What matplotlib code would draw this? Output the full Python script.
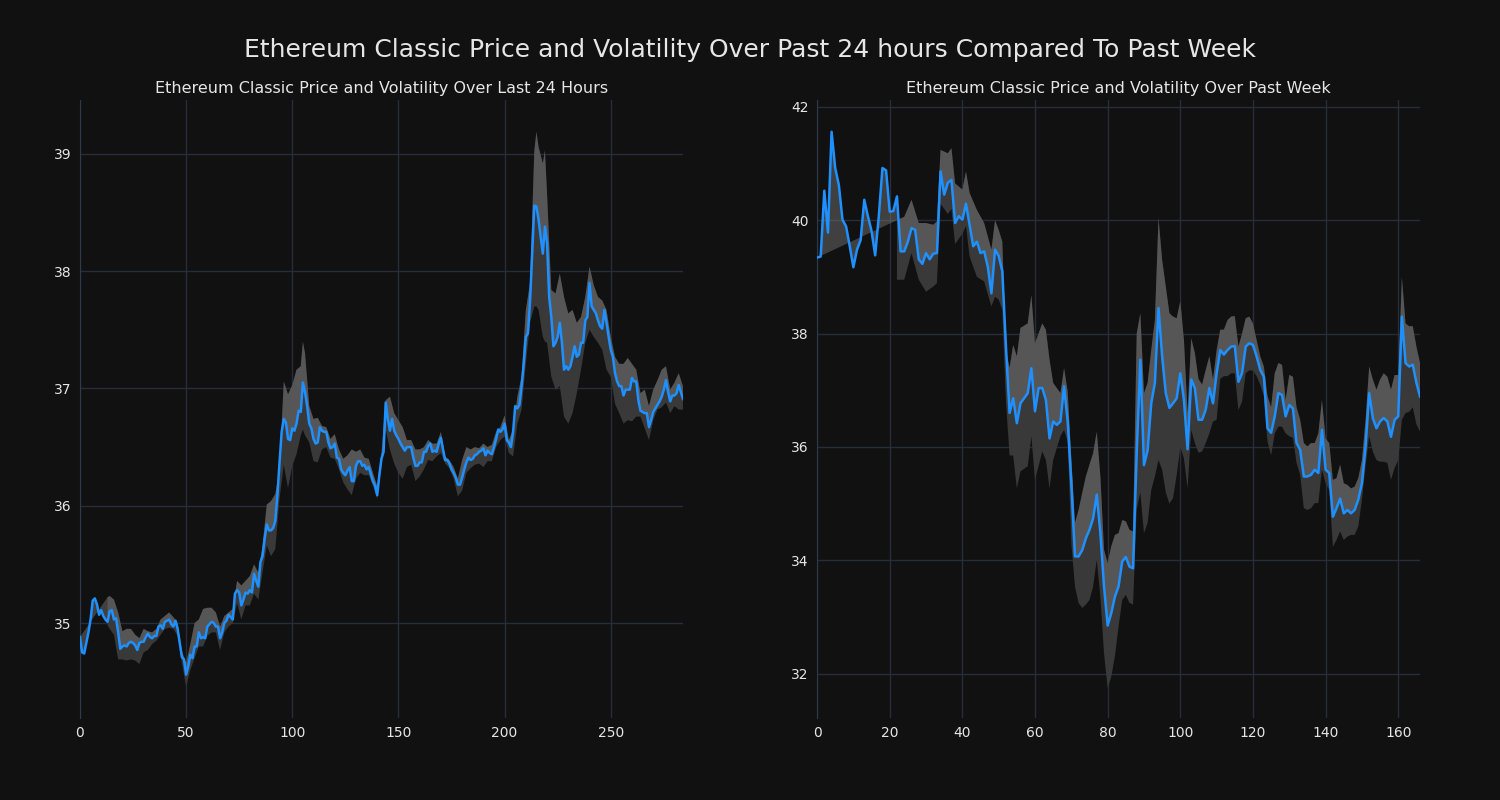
import numpy as np
import matplotlib
matplotlib.use("Agg")
import matplotlib.pyplot as plt

# last 24 hours, 5 minute steps
day_price = [
    34.88, 34.75, 34.74, 34.83, 34.92, 35.03, 35.19, 35.21, 35.16, 35.07,
    35.11, 35.06, 35.03, 35.01, 35.10, 35.11, 35.03, 35.04, 34.92, 34.78,
    34.80, 34.81, 34.80, 34.83, 34.84, 34.83, 34.81, 34.77, 34.83, 34.84,
    34.84, 34.88, 34.91, 34.88, 34.87, 34.89, 34.89, 34.97, 34.98, 34.95,
    35.01, 35.02, 35.03, 34.99, 34.97, 35.02, 34.95, 34.83, 34.71, 34.69,
    34.56, 34.63, 34.73, 34.70, 34.80, 34.80, 34.92, 34.87, 34.88, 34.87,
    34.97, 34.99, 35.01, 35.00, 34.97, 34.97, 34.87, 34.92, 35.00, 35.02,
    35.07, 35.05, 35.03, 35.25, 35.28, 35.26, 35.15, 35.20, 35.26, 35.25,
    35.28, 35.26, 35.42, 35.36, 35.31, 35.52, 35.57, 35.72, 35.84, 35.79,
    35.79, 35.81, 35.87, 36.09, 36.37, 36.63, 36.74, 36.71, 36.57, 36.56,
    36.66, 36.64, 36.70, 36.81, 36.80, 37.05, 36.97, 36.85, 36.70, 36.66,
    36.57, 36.53, 36.54, 36.67, 36.64, 36.63, 36.63, 36.54, 36.49, 36.50,
    36.53, 36.41, 36.40, 36.31, 36.28, 36.26, 36.30, 36.33, 36.21, 36.21,
    36.34, 36.38, 36.38, 36.34, 36.35, 36.31, 36.33, 36.27, 36.21, 36.17,
    36.09, 36.26, 36.40, 36.46, 36.88, 36.74, 36.64, 36.74, 36.64, 36.60,
    36.57, 36.53, 36.50, 36.47, 36.50, 36.50, 36.50, 36.41, 36.34, 36.34,
    36.37, 36.37, 36.46, 36.46, 36.51, 36.53, 36.46, 36.47, 36.46, 36.53,
    36.58, 36.48, 36.39, 36.39, 36.36, 36.31, 36.28, 36.24, 36.18, 36.18,
    36.24, 36.31, 36.37, 36.41, 36.39, 36.40, 36.43, 36.44, 36.46, 36.47,
    36.49, 36.43, 36.47, 36.45, 36.44, 36.50, 36.57, 36.65, 36.63, 36.65,
    36.70, 36.56, 36.54, 36.50, 36.63, 36.85, 36.83, 36.86, 37.02, 37.21,
    37.44, 37.47, 37.75, 38.15, 38.56, 38.55, 38.44, 38.29, 38.15, 38.38,
    38.24, 37.78, 37.61, 37.36, 37.39, 37.44, 37.56, 37.39, 37.16, 37.19,
    37.16, 37.19, 37.27, 37.36, 37.27, 37.29, 37.39, 37.39, 37.58, 37.61,
    37.90, 37.70, 37.67, 37.64, 37.58, 37.53, 37.51, 37.67, 37.56, 37.44,
    37.33, 37.27, 37.13, 37.06, 37.02, 37.02, 36.94, 36.99, 36.99, 36.99,
    37.09, 37.06, 37.06, 36.90, 36.81, 36.80, 36.79, 36.79, 36.67, 36.73,
    36.80, 36.83, 36.86, 36.89, 36.93, 36.99, 37.07, 36.97, 36.89, 36.94,
    36.94, 36.96, 37.03, 36.97, 36.91,
]

day_band_x = [
    13, 14, 16, 18, 20, 22, 24, 26, 28, 30, 32, 34, 36, 38, 40, 42, 44, 46, 48, 50,
    52, 54, 56, 58, 60, 62, 64, 66, 68, 70, 72, 74, 76, 78, 80, 82, 84, 86, 88, 90,
    92, 94, 96, 98, 100, 102, 104, 105, 106, 108, 110, 112, 114, 116, 118, 120, 122, 124, 126, 128,
    130, 132, 134, 136, 138, 140, 142, 144, 146, 148, 150, 152, 154, 156, 158, 160, 162, 164, 166, 168,
    170, 172, 174, 176, 178, 180, 182, 184, 186, 188, 190, 192, 194, 196, 198, 200, 202, 204, 206, 208,
    210, 212, 214, 215, 216, 218, 219, 220, 222, 224, 226, 228, 230, 232, 234, 236, 238, 240, 242, 244,
    246, 248, 250, 252, 254, 256, 258, 260, 262, 264, 266, 268, 270, 272, 274, 276, 278, 280, 282, 284,
]
day_upper = [
    35.22, 35.23, 35.20, 35.09, 34.93, 34.95, 34.95, 34.90, 34.87, 34.95, 34.93, 34.92, 34.95, 35.03, 35.06, 35.09, 35.05, 35.00, 34.76, 34.66,
    34.82, 35.00, 35.03, 35.12, 35.13, 35.13, 35.09, 34.97, 35.06, 35.09, 35.12, 35.36, 35.32, 35.36, 35.40, 35.50, 35.43, 35.66, 36.01, 36.04,
    36.10, 36.31, 37.06, 36.95, 37.03, 37.16, 37.19, 37.40, 37.30, 36.85, 36.74, 36.75, 36.68, 36.67, 36.57, 36.61, 36.48, 36.40, 36.43, 36.48,
    36.46, 36.48, 36.41, 36.40, 36.28, 36.17, 36.45, 36.90, 36.93, 36.79, 36.73, 36.67, 36.56, 36.56, 36.48, 36.48, 36.50, 36.56, 36.53, 36.53,
    36.63, 36.42, 36.39, 36.33, 36.23, 36.39, 36.50, 36.48, 36.50, 36.49, 36.53, 36.50, 36.52, 36.63, 36.67, 36.77, 36.56, 36.65, 36.93, 37.10,
    37.67, 37.90, 39.03, 39.19, 39.06, 38.92, 39.03, 38.66, 37.84, 37.81, 37.98, 37.78, 37.64, 37.67, 37.56, 37.61, 37.78, 38.04, 37.88, 37.78,
    37.75, 37.67, 37.44, 37.27, 37.21, 37.21, 37.26, 37.21, 37.16, 36.96, 36.99, 36.85, 36.99, 37.07, 37.16, 37.19, 36.99, 37.05, 37.13, 37.02,
]
day_lower = [
    34.98, 34.95, 34.90, 34.69, 34.69, 34.68, 34.69, 34.68, 34.65, 34.75, 34.77, 34.82, 34.85, 34.90, 34.95, 34.96, 34.95, 34.89, 34.66, 34.46,
    34.60, 34.70, 34.80, 34.80, 34.89, 34.92, 34.92, 34.77, 34.92, 34.97, 35.00, 35.17, 35.03, 35.15, 35.15, 35.25, 35.20, 35.43, 35.66, 35.57,
    35.63, 36.06, 36.35, 36.15, 36.34, 36.44, 36.60, 36.65, 36.60, 36.54, 36.38, 36.37, 36.48, 36.50, 36.41, 36.40, 36.31, 36.20, 36.14, 36.09,
    36.23, 36.28, 36.26, 36.26, 36.17, 36.06, 36.33, 36.65, 36.48, 36.36, 36.28, 36.23, 36.33, 36.35, 36.21, 36.25, 36.31, 36.39, 36.38, 36.42,
    36.45, 36.36, 36.32, 36.23, 36.08, 36.13, 36.28, 36.32, 36.35, 36.36, 36.33, 36.38, 36.38, 36.50, 36.56, 36.59, 36.45, 36.42, 36.70, 36.82,
    37.21, 37.56, 37.70, 37.70, 37.67, 37.44, 37.40, 37.39, 37.10, 36.99, 37.02, 36.76, 36.70, 36.79, 36.96, 37.16, 37.39, 37.50, 37.44, 37.39,
    37.33, 37.16, 37.10, 36.87, 36.79, 36.70, 36.73, 36.72, 36.76, 36.76, 36.66, 36.56, 36.73, 36.82, 36.84, 36.88, 36.79, 36.85, 36.82, 36.82,
]

# past week, hourly steps
week_price = [
    39.34, 39.36, 40.52, 39.78, 41.56, 40.92, 40.62, 40.01, 39.89, 39.54,
    39.17, 39.48, 39.65, 40.36, 40.07, 39.81, 39.38, 40.07, 40.92, 40.88,
    40.15, 40.16, 40.42, 39.45, 39.45, 39.62, 39.86, 39.83, 39.31, 39.23,
    39.42, 39.31, 39.41, 39.42, 40.86, 40.45, 40.66, 40.71, 39.95, 40.07,
    40.01, 40.29, 39.92, 39.54, 39.62, 39.42, 39.45, 39.18, 38.71, 39.48,
    39.37, 39.10, 37.77, 36.60, 36.86, 36.42, 36.77, 36.86, 36.95, 37.39,
    36.63, 37.04, 37.04, 36.83, 36.15, 36.45, 36.39, 36.45, 37.07, 36.45,
    35.36, 34.07, 34.07, 34.18, 34.39, 34.54, 34.74, 35.16, 34.48, 33.54,
    32.85, 33.07, 33.36, 33.54, 33.98, 34.06, 33.89, 33.86, 35.90, 37.54,
    35.68, 35.94, 36.77, 37.13, 38.45, 37.60, 36.95, 36.69, 36.77, 36.86,
    37.30, 36.83, 35.96, 37.19, 37.04, 36.48, 36.48, 36.66, 37.04, 36.77,
    37.30, 37.71, 37.63, 37.71, 37.77, 37.78, 37.15, 37.30, 37.77, 37.83,
    37.80, 37.60, 37.36, 37.24, 36.33, 36.25, 36.54, 36.95, 36.92, 36.54,
    36.74, 36.68, 36.07, 35.95, 35.48, 35.48, 35.51, 35.60, 35.54, 36.30,
    35.60, 35.54, 34.77, 34.92, 35.09, 34.83, 34.89, 34.83, 34.89, 35.07,
    35.36, 36.01, 36.95, 36.51, 36.33, 36.45, 36.51, 36.45, 36.18, 36.48,
    36.54, 38.30, 37.48, 37.42, 37.45, 37.13, 36.89,
]

week_band_x = [
    22, 24, 26, 28, 30, 32, 33, 34, 36, 37, 38, 40, 41, 42, 44, 46, 48, 49, 50, 51,
    52, 53, 54, 55, 56, 58, 59, 60, 62, 63, 64, 65, 67, 68, 69, 70, 71, 72, 73, 74,
    75, 76, 77, 78, 79, 80, 81, 82, 83, 84, 85, 86, 87, 88, 89, 90, 91, 92, 93, 94,
    95, 96, 97, 98, 99, 100, 101, 102, 103, 104, 105, 106, 107, 108, 109, 110, 111, 112, 113, 114,
    115, 116, 117, 118, 119, 120, 121, 122, 123, 124, 125, 126, 127, 128, 129, 130, 131, 132, 133, 134,
    135, 136, 137, 138, 139, 140, 141, 142, 143, 144, 145, 146, 147, 148, 149, 150, 151, 152, 153, 154,
    155, 156, 157, 158, 159, 160, 161, 162, 163, 164, 165, 166,
]
week_upper = [
    40.00, 40.06, 40.36, 39.95, 39.95, 39.92, 39.98, 41.24, 41.18, 41.27, 40.65, 40.54, 40.86, 40.48, 40.18, 39.95, 39.48, 40.00, 39.83, 39.62,
    37.70, 37.40, 37.80, 37.60, 38.10, 38.18, 38.68, 37.83, 38.18, 38.07, 37.54, 37.13, 36.95, 37.39, 36.98, 35.80, 34.66, 34.89, 35.19, 35.48,
    35.69, 35.89, 36.27, 35.48, 34.19, 33.95, 34.25, 34.45, 34.48, 34.71, 34.69, 34.54, 34.51, 38.00, 38.36, 36.95, 37.13, 37.71, 38.24, 40.04,
    39.30, 38.83, 38.36, 38.30, 38.27, 38.57, 37.89, 36.60, 37.92, 37.66, 37.20, 37.10, 37.36, 37.60, 37.19, 37.71, 38.07, 38.07, 38.24, 38.30,
    38.31, 37.77, 38.00, 38.27, 38.30, 38.18, 37.89, 37.60, 37.42, 36.90, 36.70, 37.30, 37.48, 37.45, 36.83, 37.27, 37.24, 36.70, 36.48, 36.07,
    36.01, 36.07, 36.07, 36.24, 36.83, 36.15, 36.07, 35.42, 35.45, 35.69, 35.36, 35.33, 35.27, 35.30, 35.45, 35.77, 36.48, 37.42, 37.19, 37.01,
    37.19, 37.30, 37.24, 37.01, 37.27, 37.27, 39.00, 38.18, 38.13, 38.13, 37.77, 37.48,
]
week_lower = [
    38.95, 38.95, 39.42, 38.95, 38.74, 38.83, 38.89, 40.29, 40.11, 40.20, 39.58, 39.76, 39.90, 39.36, 39.00, 38.92, 38.48, 38.65, 38.60, 38.42,
    36.80, 35.85, 35.85, 35.27, 35.57, 35.66, 36.19, 35.42, 35.92, 35.77, 35.27, 35.77, 36.19, 36.30, 36.10, 34.30, 33.54, 33.25, 33.16, 33.22,
    33.30, 33.54, 34.01, 33.36, 32.36, 31.75, 31.95, 32.31, 32.83, 33.30, 33.39, 33.25, 33.22, 34.90, 35.20, 34.48, 34.66, 35.24, 35.48, 35.77,
    35.60, 35.20, 35.00, 35.10, 35.50, 36.00, 35.80, 35.27, 36.30, 36.07, 35.90, 35.92, 36.07, 36.24, 36.45, 36.48, 37.20, 37.25, 37.25, 37.30,
    37.30, 36.65, 36.80, 37.30, 37.35, 37.35, 37.25, 37.10, 36.90, 36.10, 35.85, 36.24, 36.36, 36.36, 36.24, 36.19, 36.16, 35.72, 35.51, 34.92,
    34.89, 34.92, 35.01, 35.01, 35.60, 35.36, 35.24, 34.24, 34.36, 34.51, 34.36, 34.42, 34.45, 34.45, 34.60, 35.07, 35.66, 36.19, 35.92, 35.77,
    35.74, 35.74, 35.72, 35.42, 35.63, 35.77, 36.48, 36.60, 36.62, 36.70, 36.40, 36.27,
]

bg = '#111111'
text_col = '#e6e6e6'
grid_col = '#262e3a'

fig = plt.figure(figsize=(15, 8), dpi=100, facecolor=bg)
ax1 = fig.add_axes([0.0533, 0.1025, 0.402, 0.7725])
ax2 = fig.add_axes([0.5447, 0.1025, 0.402, 0.7725])


def draw(ax, price, band_x, upper, lower, title, xlim, ylim, xticks, yticks):
    px = np.arange(len(price))
    price = np.array(price)
    band_x = np.array(band_x)
    upper = np.array(upper)
    lower = np.array(lower)
    ax.set_facecolor(bg)
    # full band (dark), then price-to-upper (lighter)
    ax.fill(np.r_[band_x, band_x[::-1]], np.r_[upper, lower[::-1]],
            color='#393939', lw=0, zorder=1)
    ax.fill(np.r_[px, band_x[::-1]], np.r_[price, upper[::-1]],
            color='#7a7a7a', alpha=0.45, lw=0, zorder=2)
    ax.plot(px, price, color='#1e90ff', lw=1.8, zorder=3)
    ax.set_xlim(*xlim)
    ax.set_ylim(*ylim)
    ax.set_xticks(xticks)
    ax.set_yticks(yticks)
    ax.grid(True, color=grid_col, lw=1)
    ax.set_axisbelow(True)
    for s in ['top', 'right', 'bottom']:
        ax.spines[s].set_visible(False)
    ax.spines['left'].set_color('#2c3a4c')
    ax.tick_params(colors=text_col, labelsize=10, length=0, pad=6)
    ax.set_title(title, color=text_col, fontsize=11.5, pad=5)


draw(ax1, day_price, day_band_x, day_upper, day_lower,
     'Ethereum Classic Price and Volatility Over Last 24 Hours',
     (0, 284), (34.19, 39.46), [0, 50, 100, 150, 200, 250], [35, 36, 37, 38, 39])
draw(ax2, week_price, week_band_x, week_upper, week_lower,
     'Ethereum Classic Price and Volatility Over Past Week',
     (0, 166), (31.22, 42.12), [0, 20, 40, 60, 80, 100, 120, 140, 160], [32, 34, 36, 38, 40, 42])

fig.suptitle('Ethereum Classic Price and Volatility Over Past 24 hours Compared To Past Week',
             color=text_col, fontsize=18, y=0.9375, va='center')

fig.savefig('out.png', facecolor=bg)
